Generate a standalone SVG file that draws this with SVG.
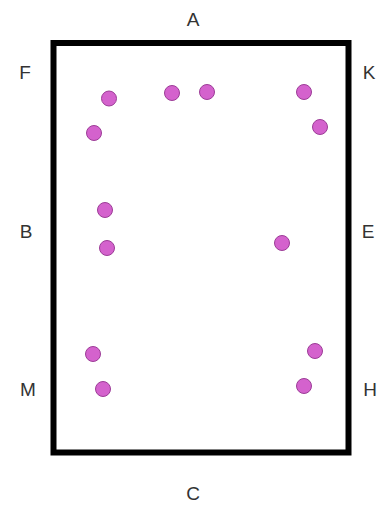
<svg xmlns="http://www.w3.org/2000/svg" width="388" height="506" viewBox="0 0 388 506">
<style>
.lbl{font-family:"Liberation Sans",Arial,sans-serif;font-size:19px;fill:#333;text-anchor:middle}
.dot{fill:#d462cd;stroke:#9c3c97;stroke-width:1}
</style>
<rect x="0" y="0" width="388" height="506" fill="#fff"/>
<g id="frame"><rect x="53.5" y="43" width="295" height="409.5" fill="none" stroke="#000" stroke-width="6"/></g>
<g id="labels">
<text class="lbl" x="193" y="26">A</text>
<text class="lbl" x="25" y="79">F</text>
<text class="lbl" x="369" y="79">K</text>
<text class="lbl" x="26" y="238">B</text>
<text class="lbl" x="368" y="238">E</text>
<text class="lbl" x="28" y="396">M</text>
<text class="lbl" x="370" y="396">H</text>
<text class="lbl" x="193" y="500">C</text>
</g>
<g id="dots">
<circle class="dot" cx="109" cy="98.5" r="7.5"/>
<circle class="dot" cx="172" cy="93" r="7.5"/>
<circle class="dot" cx="207" cy="92" r="7.5"/>
<circle class="dot" cx="304" cy="92" r="7.5"/>
<circle class="dot" cx="320" cy="127" r="7.5"/>
<circle class="dot" cx="94" cy="133" r="7.5"/>
<circle class="dot" cx="105" cy="210" r="7.5"/>
<circle class="dot" cx="107" cy="248" r="7.5"/>
<circle class="dot" cx="282" cy="243" r="7.5"/>
<circle class="dot" cx="93" cy="354" r="7.5"/>
<circle class="dot" cx="103" cy="389" r="7.5"/>
<circle class="dot" cx="315" cy="351" r="7.5"/>
<circle class="dot" cx="304" cy="386" r="7.5"/>
</g>
</svg>
